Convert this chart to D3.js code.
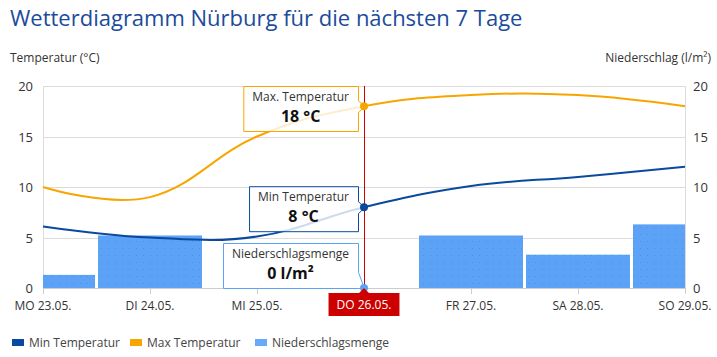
<!DOCTYPE html>
<html>
<head>
<meta charset="utf-8">
<script src="https://cdn.jsdelivr.net/npm/d3@7"></script>
<style>
  html, body { margin: 0; padding: 0; background: #fff; }
  svg { display: block; font-family: "Open Sans", "DejaVu Sans", sans-serif; }
</style>
</head>
<body>
<svg id="chart" width="717" height="357"></svg>
<script>
// ---- data ----
const days = ["MO 23.05.", "DI 24.05.", "MI 25.05.", "DO 26.05.", "FR 27.05.", "SA 28.05.", "SO 29.05."];
const minTemp = [6.1, 5.0, 5.1, 8, 10.1, 11.0, 12.0];
const maxTemp = [10.0, 9.0, 15.0, 18, 19.1, 19.1, 18.0];
const precip = [1.3, 5.2, 0, 0, 5.2, 3.3, 6.3];
const yTicks = [0, 5, 10, 15, 20];
const activeIndex = 3;
const seriesNames = ["Min Temperatur", "Max Temperatur", "Niederschlagsmenge"];
const tooltipLabels = ["Max. Temperatur", "Min Temperatur", "Niederschlagsmenge"];
const chartTitle = "Wetterdiagramm Nürburg für die nächsten 7 Tage";

// ---- styles ----
const C_MIN = "#0a4a9e", C_MAX = "#f7a600", C_PRE = "#5ca3f8", C_RED = "#cc0000";
const svg = d3.select("#chart");
const pLeft = 43, pRight = 685, pTop = 86, pBottom = 288;

const x = d3.scalePoint().domain(days).range([pLeft, pRight]);
const y = d3.scaleLinear().domain([0, 20]).range([pBottom, pTop]);
const y2 = d3.scaleLinear().domain([0, 20]).range([pBottom, pTop]);

// defs
const defs = svg.append("defs");
defs.append("clipPath").attr("id", "plotclip").append("rect")
  .attr("x", pLeft).attr("y", pTop).attr("width", pRight - pLeft).attr("height", pBottom - pTop);
const pat = defs.append("pattern").attr("id", "dots").attr("patternUnits", "userSpaceOnUse")
  .attr("width", 7).attr("height", 7);
pat.append("rect").attr("width", 7).attr("height", 7).attr("fill", C_PRE);
pat.append("rect").attr("x", 3).attr("y", 3).attr("width", 1).attr("height", 1).attr("fill", "#4f8fe0");

// title
svg.append("text").attr("x", 10).attr("y", 26).attr("font-size", 22).attr("fill", "#1b4c9b").text(chartTitle);
svg.append("text").attr("x", 10).attr("y", 62).attr("font-size", 12).attr("fill", "#333").text("Temperatur (°C)");
svg.append("text").attr("x", 711).attr("y", 62).attr("font-size", 12).attr("fill", "#333")
  .attr("text-anchor", "end").text("Niederschlag (l/m²)");

// grid
svg.append("g").selectAll("line").data(yTicks).join("line")
  .attr("x1", pLeft).attr("x2", pRight).attr("y1", d => Math.round(y(d)) + 0.5).attr("y2", d => Math.round(y(d)) + 0.5)
  .attr("stroke", "#dcdcdc").attr("stroke-width", 1);
[pLeft, pRight].forEach(px => svg.append("line").attr("x1", px + 0.5).attr("x2", px + 0.5)
  .attr("y1", pTop).attr("y2", pBottom).attr("stroke", "#dcdcdc"));

// axis labels
svg.append("g").selectAll("text").data(yTicks).join("text")
  .attr("x", 33).attr("y", d => y(d) + 5).attr("text-anchor", "end")
  .attr("font-size", 13).attr("fill", "#333").text(d => d);
svg.append("g").selectAll("text").data(yTicks).join("text")
  .attr("x", 693).attr("y", d => y2(d) + 5).attr("text-anchor", "start")
  .attr("font-size", 13).attr("fill", "#333").text(d => d);

// bars
const bw = x.step() - 3;
svg.append("g").attr("clip-path", "url(#plotclip)").selectAll("rect").data(days).join("rect")
  .attr("x", d => x(d) - bw / 2).attr("width", bw)
  .attr("y", (d, i) => y2(precip[i])).attr("height", (d, i) => pBottom - y2(precip[i]))
  .attr("fill", "url(#dots)");

// x axis
svg.append("line").attr("x1", pLeft).attr("x2", pRight).attr("y1", pBottom + 0.5).attr("y2", pBottom + 0.5).attr("stroke", "#ccc");
svg.append("g").selectAll("line").data(days).join("line")
  .attr("x1", d => x(d) + 0.5).attr("x2", d => x(d) + 0.5).attr("y1", pBottom).attr("y2", pBottom + 6).attr("stroke", "#ccc");
svg.append("g").selectAll("text").data(days).join("text")
  .attr("x", d => x(d)).attr("y", 310).attr("text-anchor", "middle")
  .attr("font-size", 12).attr("fill", "#333").text(d => d);

// lines
const curve = d3.curveCardinal.tension(-0.2);
const lineGen = d3.line().x((d, i) => x(days[i])).y(d => y(d)).curve(curve);
svg.append("path").attr("d", lineGen(minTemp)).attr("fill", "none").attr("stroke", C_MIN).attr("stroke-width", 2);
svg.append("path").attr("d", lineGen(maxTemp)).attr("fill", "none").attr("stroke", C_MAX).attr("stroke-width", 2);

// crosshair
const ax = x(days[activeIndex]);
svg.append("line").attr("x1", ax + 0.5).attr("x2", ax + 0.5).attr("y1", pTop).attr("y2", pBottom)
  .attr("stroke", C_RED).attr("stroke-width", 1);

// tooltips
function tooltip(label, value, color, px, py) {
  const g = svg.append("g");
  const t1 = g.append("text").attr("font-size", 12).attr("fill", "#333").text(label);
  const t2 = g.append("text").attr("font-size", 16).attr("font-weight", "bold").attr("fill", "#111").text(value);
  const w = Math.max(t1.node().getComputedTextLength(), t2.node().getComputedTextLength()) + 18;
  const h = 45;
  const x1 = px - 6, x0 = x1 - w;
  const y0 = Math.max(pTop, Math.min(pBottom - h, py - 21)), y1 = y0 + h;
  const aTop = Math.min(py - 6, y1 - 16), aBot = Math.min(py + 6, y1);
  const p = d3.path();
  p.moveTo(x0, y0); p.lineTo(x1, y0); p.lineTo(x1, aTop); p.lineTo(px, py); p.lineTo(x1, aBot);
  p.lineTo(x1, y1); p.lineTo(x0, y1); p.closePath();
  g.insert("path", "text").attr("d", p.toString()).attr("fill", "rgba(255,255,255,0.8)")
    .attr("stroke", color).attr("stroke-width", 1).attr("transform", "translate(0.5,0.5)");
  const cx = (x0 + x1) / 2;
  t1.attr("x", cx).attr("y", y0 + 15).attr("text-anchor", "middle");
  t2.attr("x", cx).attr("y", y0 + 36).attr("text-anchor", "middle");
}
const fmt = d3.format(".0f");
tooltip(tooltipLabels[0], fmt(maxTemp[activeIndex]) + " °C", C_MAX, ax, y(maxTemp[activeIndex]));
tooltip(tooltipLabels[1], fmt(minTemp[activeIndex]) + " °C", C_MIN, ax, y(minTemp[activeIndex]));
tooltip(tooltipLabels[2], fmt(precip[activeIndex]) + " l/m²", C_PRE, ax, y2(precip[activeIndex]));

// markers
svg.append("circle").attr("cx", ax).attr("cy", y(maxTemp[activeIndex])).attr("r", 4).attr("fill", C_MAX);
svg.append("circle").attr("cx", ax).attr("cy", y(minTemp[activeIndex])).attr("r", 4).attr("fill", C_MIN);
svg.append("circle").attr("cx", ax).attr("cy", y2(precip[activeIndex])).attr("r", 4).attr("fill", C_PRE);

// crosshair label
const lg = svg.append("g");
const lt = lg.append("text").attr("x", ax).attr("y", 309).attr("text-anchor", "middle")
  .attr("font-size", 12).attr("fill", "#fff").text(days[activeIndex]);
const lw = lt.node().getComputedTextLength() + 16;
const lp = d3.path();
lp.moveTo(ax - lw / 2, 293); lp.lineTo(ax - 5, 293); lp.lineTo(ax, 288); lp.lineTo(ax + 5, 293);
lp.lineTo(ax + lw / 2, 293); lp.lineTo(ax + lw / 2, 316); lp.lineTo(ax - lw / 2, 316); lp.closePath();
lg.insert("path", "text").attr("d", lp.toString()).attr("fill", C_RED);

// legend
const legendColors = [C_MIN, C_MAX, "#66aaf9"];
const legendX = [12, 130, 255];
seriesNames.forEach((n, i) => {
  svg.append("rect").attr("x", legendX[i]).attr("y", 339).attr("width", 12).attr("height", 7).attr("fill", legendColors[i]);
  svg.append("text").attr("x", legendX[i] + 17).attr("y", 347).attr("font-size", 12).attr("fill", "#444").text(n);
});
</script>
</body>
</html>
